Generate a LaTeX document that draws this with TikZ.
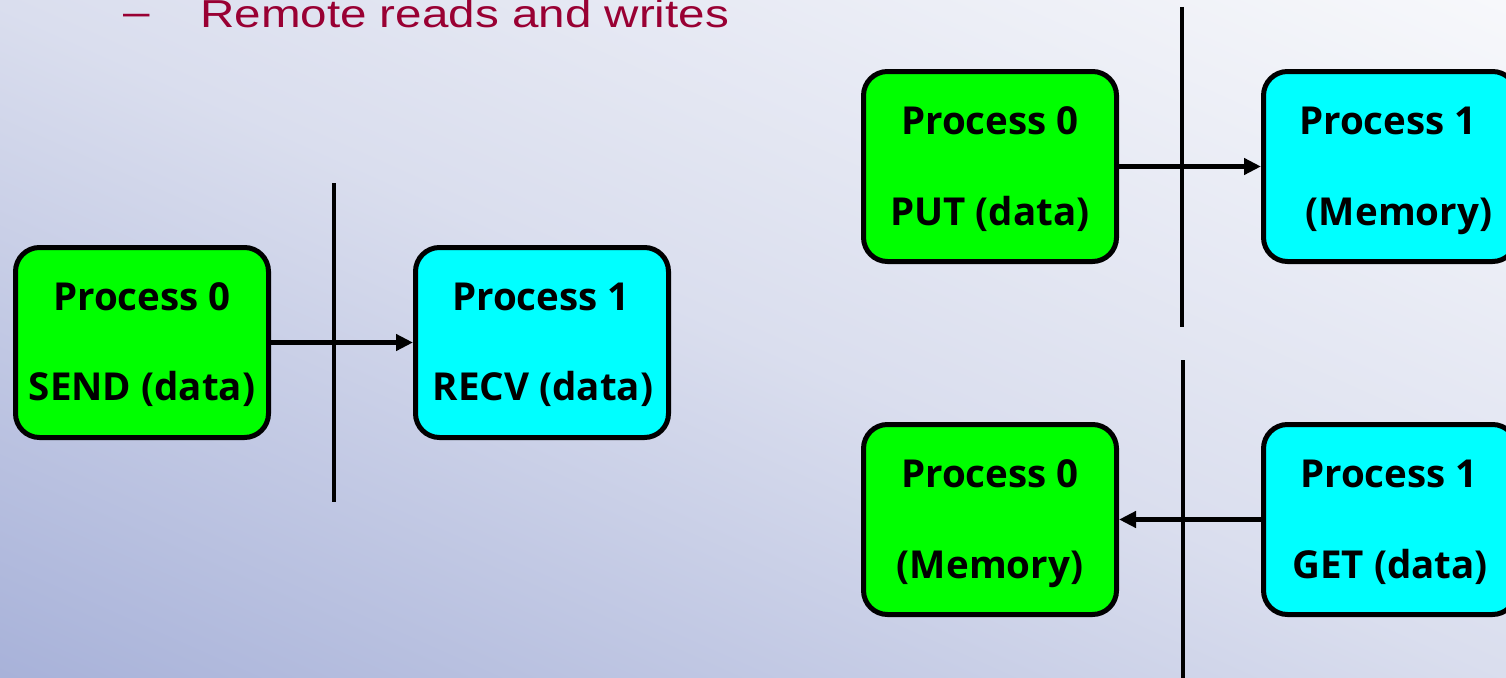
\documentclass[tikz,border=0pt]{standalone}
\usepackage{fontspec}
\setmainfont{Open Sans}
\newfontfamily\titlefont{Liberation Sans}
\usetikzlibrary{arrows.meta}
\definecolor{procgreen}{HTML}{00FF00}
\definecolor{proccyan}{HTML}{00FFFF}
\definecolor{titlered}{HTML}{990033}
\definecolor{bgA}{HTML}{A8B2D9}
\definecolor{bgB}{HTML}{DADEEE}
\definecolor{bgC}{HTML}{F7F8FB}
\pgfdeclareverticalshading{bgshade}{100bp}{color(0bp)=(bgA); color(30.7bp)=(bgA); color(50bp)=(bgB); color(69.3bp)=(bgC); color(100bp)=(bgC)}
\begin{document}
\begin{tikzpicture}[x=1pt,y=-1pt,
  box/.style={draw=black, line width=5pt, rounded corners=24pt,
    minimum width=253pt, minimum height=190pt, inner sep=0pt},
  gbox/.style={box, fill=procgreen},
  cbox/.style={box, fill=proccyan},
  lbl/.style={anchor=base, inner sep=0pt, text=black,
    font=\fontsize{38.5}{42}\selectfont\bfseries},
  ttl/.style={anchor=base west, inner sep=0pt, text=titlered,
    font=\titlefont\fontsize{39}{44}\selectfont},
  arr/.style={line width=4.5pt, -{Triangle[length=17pt,width=16pt]}},
  sepline/.style={line width=4.5pt}]
% background
\begin{scope}
  \clip (0,0) rectangle (1506,677);
  \shade[shading=bgshade, shading angle=-24]
    (-47,-461.5) rectangle (1553,1138.5);
\end{scope}
\useasboundingbox (0,0) rectangle (1506,677);
% title
\node[ttl] (dash) at (123,26) {\scalebox{1.22}[1]{–}};
\node[ttl] (title) at (200,27.5) {\scalebox{1.22}[1]{Remote reads and writes}};
% separators
\coordinate (v1a) at (334,183);
\coordinate (v1b) at (334,502);
\coordinate (v2a) at (1182,7);
\coordinate (v2b) at (1182,327);
\coordinate (v3a) at (1183,360);
\coordinate (v3b) at (1183,680);
\draw[sepline] (v1a) -- (v1b);
\draw[sepline] (v2a) -- (v2b);
\draw[sepline] (v3a) -- (v3b);
% boxes
\node[gbox] (g1) at (142,342.5) {};
\node[cbox] (c1) at (542,342.5) {};
\node[gbox] (g2) at (990,166.5) {};
\node[cbox] (c2) at (1390,166.5) {};
\node[gbox] (g3) at (990,519.5) {};
\node[cbox] (c3) at (1390,519.5) {};
% labels
\node[lbl] (g1a) at (142,310) {Process 0};
\node[lbl] (g1b) at (142,400) {SEND (data)};
\node[lbl] (c1a) at (541,310) {Process 1};
\node[lbl] (c1b) at (543,400) {RECV (data)};
\node[lbl] (g2a) at (990,134) {Process 0};
\node[lbl] (g2b) at (990,225) {PUT (data)};
\node[lbl] (c2a) at (1388,134) {Process 1};
\node[lbl] (c2b) at (1399,225) {(Memory)};
\node[lbl] (g3a) at (990,487) {Process 0};
\node[lbl] (g3b) at (990,578) {(Memory)};
\node[lbl] (c3a) at (1389,487) {Process 1};
\node[lbl] (c3b) at (1390,578) {GET (data)};
% arrows
\draw[arr] (g1) -- (c1);
\draw[arr] (g2) -- (c2);
\draw[arr] (c3) -- (g3);
\end{tikzpicture}
\end{document}
